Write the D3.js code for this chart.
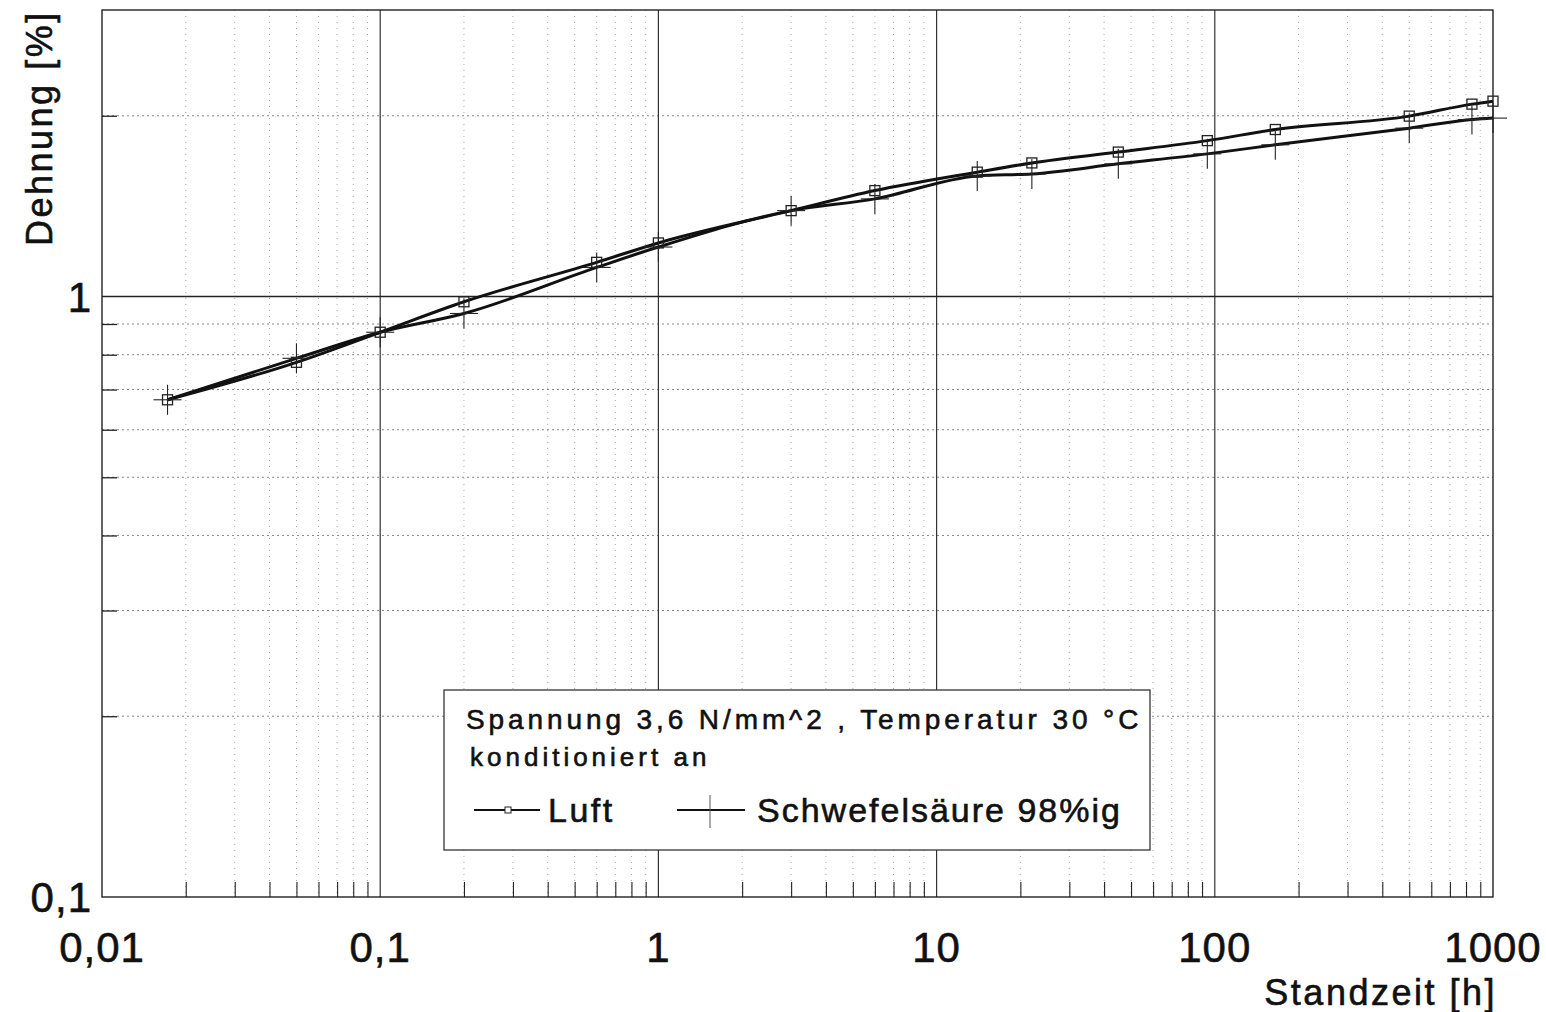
<!DOCTYPE html>
<html>
<head>
<meta charset="utf-8">
<script src="https://cdn.jsdelivr.net/npm/d3@7"></script>
<style>
  html, body { margin: 0; padding: 0; background: #fff; }
  svg { display: block; }
  text { font-family: "Liberation Sans", Arial, sans-serif; fill: #111; }
  .heavy { stroke: #111; stroke-width: 0.6px; }
</style>
</head>
<body>
<svg id="chart" width="1546" height="1012"></svg>
<script>
// ---- data ----
const times = [0.0172, 0.05, 0.1, 0.2, 0.6, 1, 3, 6, 14, 22, 45, 94, 165, 500, 840, 1000];
const luft = [0.673, 0.777, 0.872, 0.980, 1.140, 1.228, 1.390, 1.501, 1.611, 1.669, 1.740, 1.818, 1.897, 1.997, 2.091, 2.115];
const schwefel = [0.673, 0.789, 0.872, 0.937, 1.118, 1.209, 1.390, 1.454, 1.588, 1.600, 1.663, 1.728, 1.789, 1.907, 1.971, 1.982];
const xTickValues = [0.01, 0.1, 1, 10, 100, 1000];
const xTickLabels = ["0,01", "0,1", "1", "10", "100", "1000"];
const yTickValues = [0.1, 1];
const yTickLabels = ["0,1", "1"];
const xTitle = "Standzeit [h]";
const yTitle = "Dehnung [%]";
const legendLine1 = "Spannung 3,6 N/mm^2 , Temperatur 30 \u00B0C";
const legendLine2 = "konditioniert an";
const seriesNames = ["Luft", "Schwefels\u00E4ure 98%ig"];

// ---- layout ----
const svg = d3.select("#chart");
const L = 102, R = 1493, T = 10, B = 897;
const x = d3.scaleLog().domain([0.01, 1000]).range([L, R]);
const y = d3.scaleLog().domain([0.1, 3]).range([B, T]);

// minor positions
const xMinor = [];
for (let d = 0.01; d < 1000; d *= 10) for (let k = 2; k <= 9; k++) xMinor.push(+(d * k).toPrecision(3));
const yMinor = [0.2, 0.3, 0.4, 0.5, 0.6, 0.7, 0.8, 0.9, 2];
const xMajorInner = [0.1, 1, 10, 100];

const g = svg.append("g");

// minor dotted grid
g.append("g").selectAll("line").data(xMinor).join("line")
  .attr("x1", d => x(d)).attr("x2", d => x(d)).attr("y1", T).attr("y2", B)
  .attr("stroke", "#a8a8a8").attr("stroke-width", 1).attr("stroke-dasharray", "1,5");
g.append("g").selectAll("line").data(yMinor).join("line")
  .attr("x1", L).attr("x2", R).attr("y1", d => y(d)).attr("y2", d => y(d))
  .attr("stroke", "#888").attr("stroke-width", 1).attr("stroke-dasharray", "2,3");

// major grid
g.append("g").selectAll("line").data(xMajorInner).join("line")
  .attr("x1", d => x(d)).attr("x2", d => x(d)).attr("y1", T).attr("y2", B)
  .attr("stroke", "#333").attr("stroke-width", 1.2);
g.append("line").attr("x1", L).attr("x2", R).attr("y1", y(1)).attr("y2", y(1))
  .attr("stroke", "#222").attr("stroke-width", 1.4);

// minor ticks via axes
g.append("g").attr("transform", `translate(0,${B})`)
  .call(d3.axisBottom(x).tickValues(xMinor).tickSize(-15).tickFormat(""))
  .call(s => s.select(".domain").remove())
  .call(s => s.selectAll("line").attr("stroke", "#222").attr("stroke-width", 1.1));
g.append("g").attr("transform", `translate(${L},0)`)
  .call(d3.axisLeft(y).tickValues(yMinor).tickSize(-15).tickFormat(""))
  .call(s => s.select(".domain").remove())
  .call(s => s.selectAll("line").attr("stroke", "#222").attr("stroke-width", 1.3));

// frame
g.append("rect").attr("x", L).attr("y", T).attr("width", R - L).attr("height", B - T)
  .attr("fill", "none").attr("stroke", "#222").attr("stroke-width", 1.4);

// tick labels
g.append("g").selectAll("text").data(xTickValues).join("text")
  .attr("class", "heavy")
  .attr("x", d => x(d)).attr("y", 962).attr("text-anchor", "middle")
  .attr("font-size", 42).attr("letter-spacing", 1)
  .text((d, i) => xTickLabels[i]);
g.append("g").selectAll("text").data(yTickValues).join("text")
  .attr("class", "heavy")
  .attr("x", 92).attr("y", d => y(d) + 15).attr("text-anchor", "end")
  .attr("font-size", 42).attr("letter-spacing", 1)
  .text((d, i) => yTickLabels[i]);

// axis titles
g.append("text").attr("class", "heavy").attr("x", 1497).attr("y", 1005).attr("text-anchor", "end")
  .attr("font-size", 36).attr("letter-spacing", 2.5).text(xTitle);
g.append("text").attr("class", "heavy").attr("transform", "translate(52,246) rotate(-90)")
  .attr("font-size", 36).attr("letter-spacing", 2.5).text(yTitle);

// series lines
const line = d3.line().x(d => x(d[0])).y(d => y(d[1])).curve(d3.curveMonotoneX);
const luftPts = times.map((t, i) => [t, luft[i]]);
const schPts = times.map((t, i) => [t, schwefel[i]]);
g.append("path").attr("d", line(schPts)).attr("fill", "none").attr("stroke", "#111").attr("stroke-width", 3);
g.append("path").attr("d", line(luftPts)).attr("fill", "none").attr("stroke", "#111").attr("stroke-width", 3);

// markers
g.append("g").selectAll("rect").data(luftPts).join("rect")
  .attr("x", d => x(d[0]) - 5).attr("y", d => y(d[1]) - 5).attr("width", 10).attr("height", 10)
  .attr("fill", "none").attr("stroke", "#222").attr("stroke-width", 1.3);
const cross = g.append("g").selectAll("g").data(schPts).join("g")
  .attr("transform", d => `translate(${x(d[0])},${y(d[1])})`);
cross.append("line").attr("x1", 0).attr("x2", 0).attr("y1", -15).attr("y2", 15)
  .attr("stroke", "#222").attr("stroke-width", 1.1);
cross.append("line").attr("x1", -14).attr("x2", 14).attr("y1", 0).attr("y2", 0)
  .attr("stroke", "#222").attr("stroke-width", 1.1);

// legend box
const lg = g.append("g");
lg.append("rect").attr("x", 444).attr("y", 690).attr("width", 706).attr("height", 160)
  .attr("fill", "#fff").attr("stroke", "#333").attr("stroke-width", 1.3);
lg.append("text").attr("class", "heavy").attr("x", 466).attr("y", 729).attr("font-size", 28).attr("letter-spacing", 3.9).text(legendLine1);
lg.append("text").attr("class", "heavy").attr("x", 470).attr("y", 766).attr("font-size", 26).attr("letter-spacing", 4).text(legendLine2);
// Luft sample
lg.append("line").attr("x1", 474).attr("x2", 540).attr("y1", 810).attr("y2", 810).attr("stroke", "#111").attr("stroke-width", 2);
lg.append("rect").attr("x", 505).attr("y", 807).attr("width", 6).attr("height", 6).attr("fill", "#fff").attr("stroke", "#222").attr("stroke-width", 1);
lg.append("text").attr("class", "heavy").attr("x", 548).attr("y", 822).attr("font-size", 34).attr("letter-spacing", 2.5).text(seriesNames[0]);
// Schwefel sample
lg.append("line").attr("x1", 677).attr("x2", 745).attr("y1", 810).attr("y2", 810).attr("stroke", "#111").attr("stroke-width", 2);
lg.append("line").attr("x1", 710).attr("x2", 710).attr("y1", 795).attr("y2", 828).attr("stroke", "#555").attr("stroke-width", 1);
lg.append("text").attr("class", "heavy").attr("x", 757).attr("y", 822).attr("font-size", 34).attr("letter-spacing", 2).text(seriesNames[1]);
</script>
</body>
</html>
